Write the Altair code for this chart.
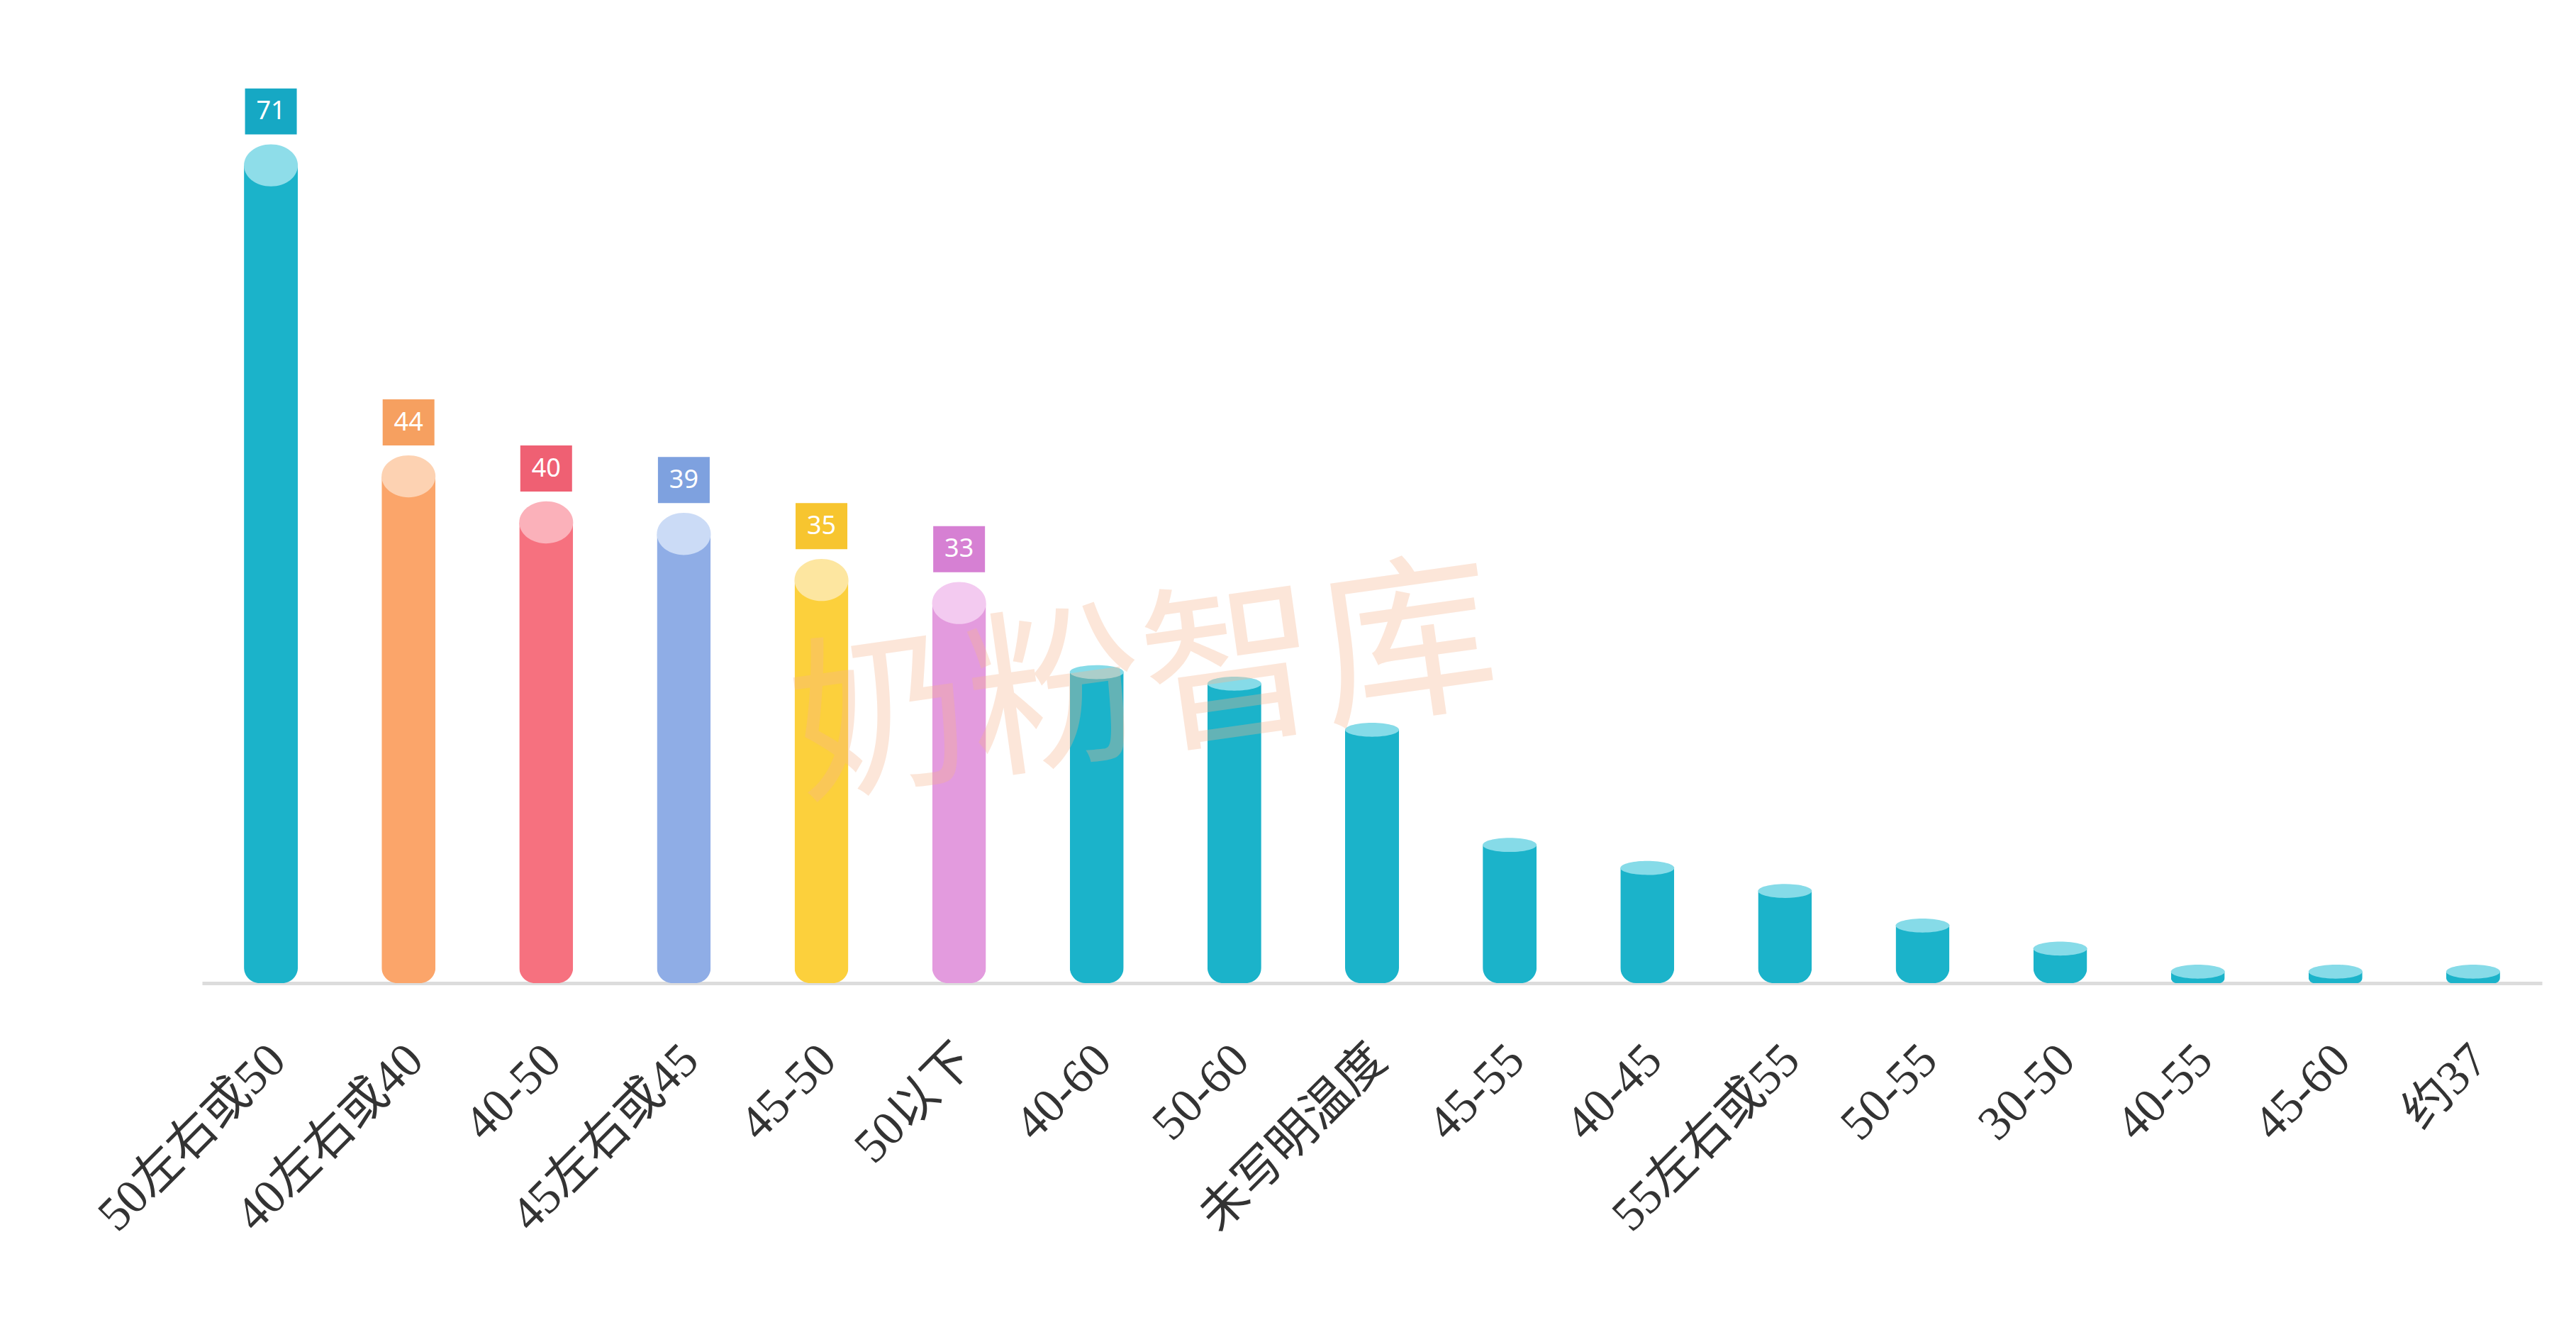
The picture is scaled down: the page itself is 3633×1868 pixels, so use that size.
import altair as alt
import pandas as pd

# ---- data ----
categories = ["50左右或50", "40左右或40", "40-50", "45左右或45", "45-50", "50以下",
              "40-60", "50-60", "未写明温度", "45-55", "40-45", "55左右或55",
              "50-55", "30-50", "40-55", "45-60", "约37"]
values = [71, 44, 40, 39, 35, 33, 27, 26, 22, 12, 10, 8, 5, 3, 1, 1, 1]
labeled = [True] * 6 + [False] * 11
watermark_text = "奶粉智库"

# ---- style palettes ----
TEAL, TEAL_TOP, TEAL_BOX = "#1bb3ca", "#86dbe8", "#16a8c4"
body_colors = ["#1bb3ca", "#fba56a", "#f6717f", "#8fade6", "#fcd03c", "#e39bde"] + [TEAL] * 11
top_colors = ["#8edde9", "#fdd2b2", "#fbb1ba", "#cbdbf6", "#fde6a0", "#f3caf0"] + [TEAL_TOP] * 11
box_colors = ["#16a8c4", "#f6a060", "#ef6073", "#7ea1df", "#f7c52f", "#d680d3"] + [TEAL_BOX] * 11

df = pd.DataFrame({"cat": categories, "value": values, "labeled": labeled})

color_domain = (categories + ["t:" + c for c in categories] + ["b:" + c for c in categories])
color_range = body_colors + top_colors + box_colors
cscale = alt.Scale(domain=color_domain, range=color_range)

W, H = 3300, 1299
YMAX = 80
PAD = {"left": 277, "top": 79, "right": 40, "bottom": 474}
BOX_UP = 76 * YMAX / H  # box centre sits 76 px above the bar top

x_enc = alt.X("cat:N", sort=categories,
              scale=alt.Scale(paddingInner=0, paddingOuter=0),
              axis=alt.Axis(title=None, ticks=False, domainColor="#dcdcdc", domainWidth=5,
                            labelAngle=315, labelAlign="right", labelBaseline="middle",
                            labelPadding=98, labelOffset=10, labelFontSize=68,
                            labelFont="Liberation Serif, Noto Sans CJK SC, serif",
                            labelColor="#333333", labelLimit=0, labelOverlap=False,
                            grid=False))
y_enc = alt.Y("value:Q", scale=alt.Scale(domain=[0, YMAX], nice=False), axis=None)
x_plain = alt.X("cat:N", sort=categories)

base = alt.Chart(df).transform_calculate(
    tkey="'t:' + datum.cat", bkey="'b:' + datum.cat",
    boxy=f"datum.value + {BOX_UP}"
)

# watermark (decoration), anchored on the 7th band, sitting at y = 25
watermark = base.transform_filter(alt.datum.cat == categories[6]).transform_calculate(
    wm=f"'{watermark_text}'", wy="25"
).mark_text(
    font="Noto Sans CJK SC", fontSize=250, fontWeight="normal", dx=68,
    color="#f6b58e", opacity=0.33, angle=352, align="center", baseline="middle"
).encode(x=x_plain, y="wy:Q", text="wm:N")

bars = base.mark_bar(size=76, cornerRadiusBottomLeft=22, cornerRadiusBottomRight=22).encode(
    x=x_enc, y=y_enc,
    color=alt.Color("cat:N", scale=cscale, legend=None),
)

tops_big = base.transform_filter("datum.labeled").mark_point(
    shape="M-1,0 A1,0.78 0 1,0 1,0 A1,0.78 0 1,0 -1,0 Z", filled=True, size=5776,
    opacity=1, strokeWidth=0
).encode(x=x_plain, y="value:Q",
         color=alt.Color("tkey:N", scale=cscale, legend=None))
tops_small = base.transform_filter("!datum.labeled").mark_point(
    shape="M-1,0 A1,0.26 0 1,0 1,0 A1,0.26 0 1,0 -1,0 Z", filled=True, size=5776,
    opacity=1, strokeWidth=0
).encode(x=x_plain, y="value:Q",
         color=alt.Color("tkey:N", scale=cscale, legend=None))

boxes = base.transform_filter("datum.labeled").mark_point(
    shape="M-1,-0.89 L1,-0.89 L1,0.89 L-1,0.89 Z", filled=True, size=5329,
    opacity=1, strokeWidth=0
).encode(x=x_plain, y="boxy:Q",
         color=alt.Color("bkey:N", scale=cscale, legend=None))
box_text = base.transform_filter("datum.labeled").mark_text(
    color="white", fontSize=36, font="Noto Sans", baseline="middle", align="center"
).encode(x=x_plain, y="boxy:Q", text="value:Q")

chart = alt.layer(
    bars, tops_big, tops_small, boxes, box_text, watermark
).properties(
    width=W, height=H, padding=PAD, autosize=alt.AutoSizeParams(type="none"),
    background="white"
).configure_view(strokeWidth=0)

chart.save("out.html", embed_options={"renderer": "svg", "actions": False})
